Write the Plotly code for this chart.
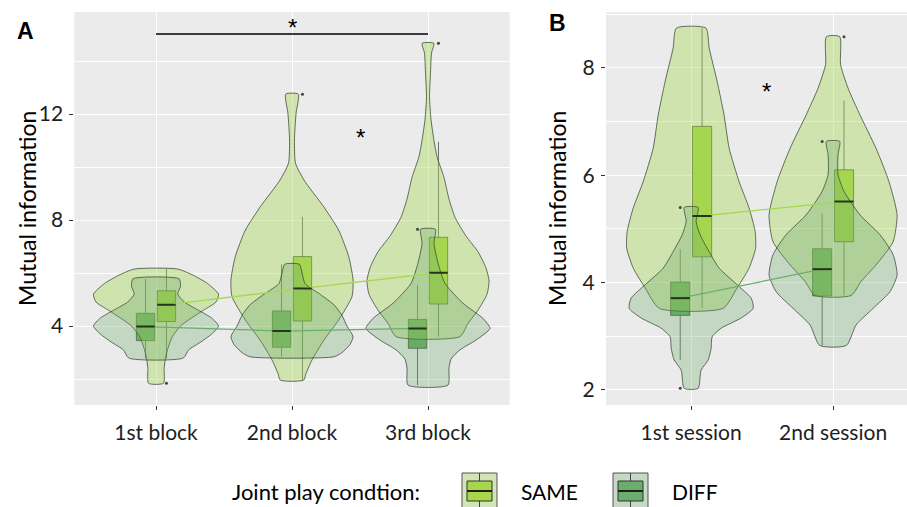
import plotly.graph_objects as go

# ---------------- data ----------------
blocks = ["1st block", "2nd block", "3rd block"]
sessions = ["1st session", "2nd session"]

# Violin outlines: value levels (top -> bottom) and half-widths (category units)
a_same_levels = [
    [6.15, 5.9, 5.6, 5.2, 4.9, 4.6, 4.3, 4.0, 3.6, 3.2, 2.8, 2.4, 1.84],
    [12.75, 12.03, 11.02, 10.14, 9.51, 8.5, 7.62, 6.62, 5.74, 5.11, 4.23, 3.47, 2.72, 2.21, 1.96],
    [14.67, 14.3, 13.5, 12.65, 11.8, 11.0, 10.4, 9.6, 8.8, 8.1, 7.4, 6.8, 6.2, 5.7, 5.2, 4.6, 4.1, 3.6],
]
a_same_half = [
    [0.16, 0.28, 0.38, 0.46, 0.44, 0.35, 0.26, 0.18, 0.12, 0.09, 0.07, 0.06, 0.055],
    [0.046, 0.03, 0.018, 0.026, 0.088, 0.233, 0.343, 0.417, 0.449, 0.441, 0.343, 0.235, 0.147, 0.103, 0.086],
    [0.043, 0.026, 0.018, 0.011, 0.022, 0.044, 0.066, 0.118, 0.154, 0.199, 0.279, 0.368, 0.426, 0.449, 0.434, 0.368, 0.294, 0.235],
]
a_diff_levels = [
    [5.78, 5.5, 5.2, 4.9, 4.6, 4.3, 4.0, 3.7, 3.4, 3.1, 2.79],
    [6.33, 6.0, 5.6, 5.2, 4.8, 4.4, 4.0, 3.6, 3.3, 3.0, 2.84],
    [7.65, 7.12, 6.37, 5.61, 4.86, 4.29, 3.91, 3.47, 3.1, 2.75, 2.4, 1.77],
]
a_diff_half = [
    [0.17, 0.18, 0.16, 0.21, 0.31, 0.41, 0.46, 0.41, 0.33, 0.24, 0.20],
    [0.054, 0.074, 0.096, 0.206, 0.309, 0.368, 0.404, 0.449, 0.426, 0.368, 0.309],
    [0.054, 0.044, 0.074, 0.125, 0.257, 0.404, 0.456, 0.353, 0.235, 0.169, 0.154, 0.147],
]
b_same_levels = [
    [8.74, 8.37, 7.75, 7.12, 6.50, 5.88, 5.39, 4.95, 4.64, 4.27, 3.90, 3.52],
    [8.58, 8.06, 7.62, 7.12, 6.50, 5.88, 5.26, 4.76, 4.33, 4.02, 3.76],
]
b_same_half = [
    [0.104, 0.127, 0.183, 0.232, 0.268, 0.338, 0.408, 0.451, 0.454, 0.408, 0.324, 0.225],
    [0.047, 0.053, 0.106, 0.19, 0.303, 0.394, 0.451, 0.423, 0.303, 0.197, 0.127],
]
b_diff_levels = [
    [5.40, 5.14, 4.89, 4.64, 4.27, 3.96, 3.71, 3.52, 3.34, 3.15, 2.99, 2.78, 2.56, 2.37, 2.03],
    [6.63, 6.38, 6.01, 5.70, 5.26, 4.89, 4.52, 4.14, 3.83, 3.52, 3.21, 2.83],
]
b_diff_half = [
    [0.049, 0.035, 0.063, 0.113, 0.197, 0.324, 0.423, 0.437, 0.352, 0.211, 0.148, 0.141, 0.120, 0.070, 0.049],
    [0.047, 0.035, 0.035, 0.077, 0.19, 0.331, 0.423, 0.451, 0.401, 0.282, 0.162, 0.094],
]

# Box-plot summaries
a_same_low = [2.79, 1.96, 3.60]
a_same_q1 = [4.17, 4.19, 4.83]
a_same_med = [4.80, 5.42, 6.01]
a_same_q3 = [5.33, 6.62, 7.35]
a_same_high = [6.15, 8.12, 10.95]
a_same_out = [[1.84], [12.75], [14.67]]

a_diff_low = [2.79, 2.84, 1.77]
a_diff_q1 = [3.45, 3.20, 3.16]
a_diff_med = [3.98, 3.81, 3.91]
a_diff_q3 = [4.48, 4.57, 4.25]
a_diff_high = [5.78, 6.33, 5.55]
a_diff_out = [[], [], [7.65]]

b_same_low = [3.52, 3.76]
b_same_q1 = [4.48, 4.76]
b_same_med = [5.24, 5.51]
b_same_q3 = [6.91, 6.10]
b_same_high = [8.74, 7.39]
b_same_out = [[], [8.58]]

b_diff_low = [2.56, 2.83]
b_diff_q1 = [3.39, 3.75]
b_diff_med = [3.71, 4.25]
b_diff_q3 = [4.01, 4.63]
b_diff_high = [4.62, 5.29]
b_diff_out = [[5.40, 2.03], [6.63]]

# ---------------- styling ----------------
FONT = "Lato"
SAME_VIOLIN = "rgba(166,216,84,0.40)"
DIFF_VIOLIN = "rgba(102,168,102,0.30)"
SAME_BOX = "#A7D64B"
DIFF_BOX = "#6BAE6B"
SAME_LINE = "#A6D854"
DIFF_LINE = "#6AAE6A"
OUTLINE = "rgba(55,70,50,0.75)"
BOX_EDGE = "rgba(50,60,45,0.7)"
DODGE = 0.077
BOX_W = 0.135

fig = go.Figure()


def add_violin(center, levels, half, fill, xa, ya):
    xs = [center + w for w in half] + [center - w for w in reversed(half)] + [center + half[0]]
    ys = list(levels) + list(reversed(levels)) + [levels[0]]
    fig.add_trace(go.Scatter(
        x=xs, y=ys, mode="lines", fill="toself", fillcolor=fill,
        line=dict(color=OUTLINE, width=1, shape="spline", smoothing=0.6),
        xaxis=xa, yaxis=ya, hoverinfo="skip", showlegend=False))


def add_box(pos, low, q1, med, q3, high, outs, fill, xa, ya):
    fig.add_trace(go.Box(
        x=[pos], q1=[q1], median=[med], q3=[q3], lowerfence=[low], upperfence=[high],
        width=BOX_W, whiskerwidth=0, fillcolor=fill, boxpoints=False,
        line=dict(color=BOX_EDGE, width=1), xaxis=xa, yaxis=ya,
        hoverinfo="skip", showlegend=False))
    fig.add_trace(go.Scatter(
        x=[pos - BOX_W / 2, pos + BOX_W / 2], y=[med, med], mode="lines",
        line=dict(color="#26331f", width=2), xaxis=xa, yaxis=ya,
        hoverinfo="skip", showlegend=False))
    if outs:
        fig.add_trace(go.Scatter(
            x=[pos] * len(outs), y=outs, mode="markers",
            marker=dict(color="#444444", size=3), xaxis=xa, yaxis=ya,
            hoverinfo="skip", showlegend=False))


def panel(cats, s_lv, s_hw, d_lv, d_hw, s_stats, d_stats, xa, ya):
    for i in range(len(cats)):
        add_violin(i, s_lv[i], s_hw[i], SAME_VIOLIN, xa, ya)
        add_violin(i, d_lv[i], d_hw[i], DIFF_VIOLIN, xa, ya)
    idx = list(range(len(cats)))
    fig.add_trace(go.Scatter(x=[i + DODGE for i in idx], y=s_stats[2], mode="lines",
                             line=dict(color=SAME_LINE, width=1.3), xaxis=xa, yaxis=ya,
                             hoverinfo="skip", showlegend=False))
    fig.add_trace(go.Scatter(x=[i - DODGE for i in idx], y=d_stats[2], mode="lines",
                             line=dict(color=DIFF_LINE, width=1.3), xaxis=xa, yaxis=ya,
                             hoverinfo="skip", showlegend=False))
    for i in idx:
        add_box(i - DODGE, d_stats[0][i], d_stats[1][i], d_stats[2][i], d_stats[3][i],
                d_stats[4][i], d_stats[5][i], DIFF_BOX, xa, ya)
        add_box(i + DODGE, s_stats[0][i], s_stats[1][i], s_stats[2][i], s_stats[3][i],
                s_stats[4][i], s_stats[5][i], SAME_BOX, xa, ya)


panel(blocks, a_same_levels, a_same_half, a_diff_levels, a_diff_half,
      [a_same_low, a_same_q1, a_same_med, a_same_q3, a_same_high, a_same_out],
      [a_diff_low, a_diff_q1, a_diff_med, a_diff_q3, a_diff_high, a_diff_out], "x", "y")
panel(sessions, b_same_levels, b_same_half, b_diff_levels, b_diff_half,
      [b_same_low, b_same_q1, b_same_med, b_same_q3, b_same_high, b_same_out],
      [b_diff_low, b_diff_q1, b_diff_med, b_diff_q3, b_diff_high, b_diff_out], "x2", "y2")

W, H = 907, 507
ydom = [102 / H, 495 / H]
tickfont = dict(family=FONT, size=21, color="#1e1e1e")
common_x = dict(showgrid=True, gridcolor="white", gridwidth=1.2, zeroline=False,
                ticks="outside", ticklen=4, tickcolor="#333333", tickfont=tickfont,
                showline=False, ticklabelstandoff=5)
common_y = dict(showgrid=True, gridcolor="white", gridwidth=1.2, zeroline=False,
                ticks="outside", ticklen=4, tickcolor="#333333", tickfont=tickfont,
                showline=False, ticklabelstandoff=2)

fig.update_layout(
    width=W, height=H, margin=dict(l=0, r=0, t=0, b=0),
    plot_bgcolor="#EBEBEB", paper_bgcolor="white", showlegend=False, boxmode="overlay",
    xaxis=dict(domain=[74.4 / W, 509.6 / W], range=[-0.6, 2.6], tickvals=[0, 1, 2],
               ticktext=blocks, anchor="y", **common_x),
    yaxis=dict(domain=ydom, range=[1.02, 15.85], tick0=0, dtick=4, anchor="x",
               minor=dict(dtick=2, showgrid=True, gridcolor="white", gridwidth=0.5),
               **common_y),
    xaxis2=dict(domain=[606 / W, 1.0], range=[-0.6, 1.521], tickvals=[0, 1],
                ticktext=sessions, anchor="y2", **common_x),
    yaxis2=dict(domain=ydom, range=[1.72, 9.04], tick0=0, dtick=2, anchor="x2",
                minor=dict(dtick=1, showgrid=True, gridcolor="white", gridwidth=0.5),
                **common_y),
)

# significance markers
fig.add_shape(type="line", xref="x", yref="y", x0=0, x1=2, y0=15.02, y1=15.02,
              line=dict(color="black", width=1.5))
stars = [("x", "y", 1, 15.27), ("x", "y", 1.5, 11.12), ("x2", "y2", 0.533, 7.56)]
for xr, yr, sx, sy in stars:
    fig.add_annotation(xref=xr, yref=yr, x=sx, y=sy, text="*", showarrow=False,
                       xanchor="center", yanchor="middle",
                       font=dict(family="Liberation Sans", size=24, color="black"))

# panel letters
for letter, lx, ly in (("A", 25.5, 31.5), ("B", 557, 23)):
    fig.add_annotation(xref="paper", yref="paper", x=lx / W, y=1 - ly / H,
                       text="<b>" + letter + "</b>", showarrow=False,
                       xanchor="center", yanchor="middle",
                       font=dict(family="Liberation Sans", size=23, color="black"))

# y axis titles
for xc in (27, 557):
    fig.add_annotation(xref="paper", yref="paper", x=xc / W, y=1 - 209 / H,
                       text="Mutual information", textangle=-90, showarrow=False,
                       xanchor="center", yanchor="middle",
                       font=dict(family=FONT, size=23, color="black"))

# legend
fig.add_annotation(xref="paper", yref="paper", x=422 / W, y=1 - 491 / H,
                   xanchor="right", yanchor="middle",
                   text="Joint play condtion:", showarrow=False,
                   font=dict(family=FONT, size=22, color="black"))
legend_items = [("SAME", 462, "#D3E4B6", SAME_BOX), ("DIFF", 613, "#C6D8C6", DIFF_BOX)]
for label, x0, bg, fill in legend_items:
    cx = x0 + 17.5
    fig.add_shape(type="rect", xref="paper", yref="paper", x0=x0 / W, x1=(x0 + 35) / W,
                  y0=1 - 508 / H, y1=1 - 473 / H, fillcolor=bg,
                  line=dict(color="#555555", width=1))
    fig.add_shape(type="line", xref="paper", yref="paper", x0=cx / W, x1=cx / W,
                  y0=1 - 508 / H, y1=1 - 473 / H, line=dict(color="#444444", width=1))
    fig.add_shape(type="rect", xref="paper", yref="paper", x0=(cx - 12.5) / W,
                  x1=(cx + 12.5) / W, y0=1 - 501 / H, y1=1 - 481 / H, fillcolor=fill,
                  line=dict(color="#333333", width=1))
    fig.add_shape(type="line", xref="paper", yref="paper", x0=(cx - 12.5) / W,
                  x1=(cx + 12.5) / W, y0=1 - 491 / H, y1=1 - 491 / H,
                  line=dict(color="#1e1e1e", width=2))
    fig.add_annotation(xref="paper", yref="paper", x=(x0 + 57) / W, y=1 - 491 / H,
                       xanchor="left", yanchor="middle", text=label, showarrow=False,
                       font=dict(family=FONT, size=21, color="black"))

fig.write_html("out.html")
